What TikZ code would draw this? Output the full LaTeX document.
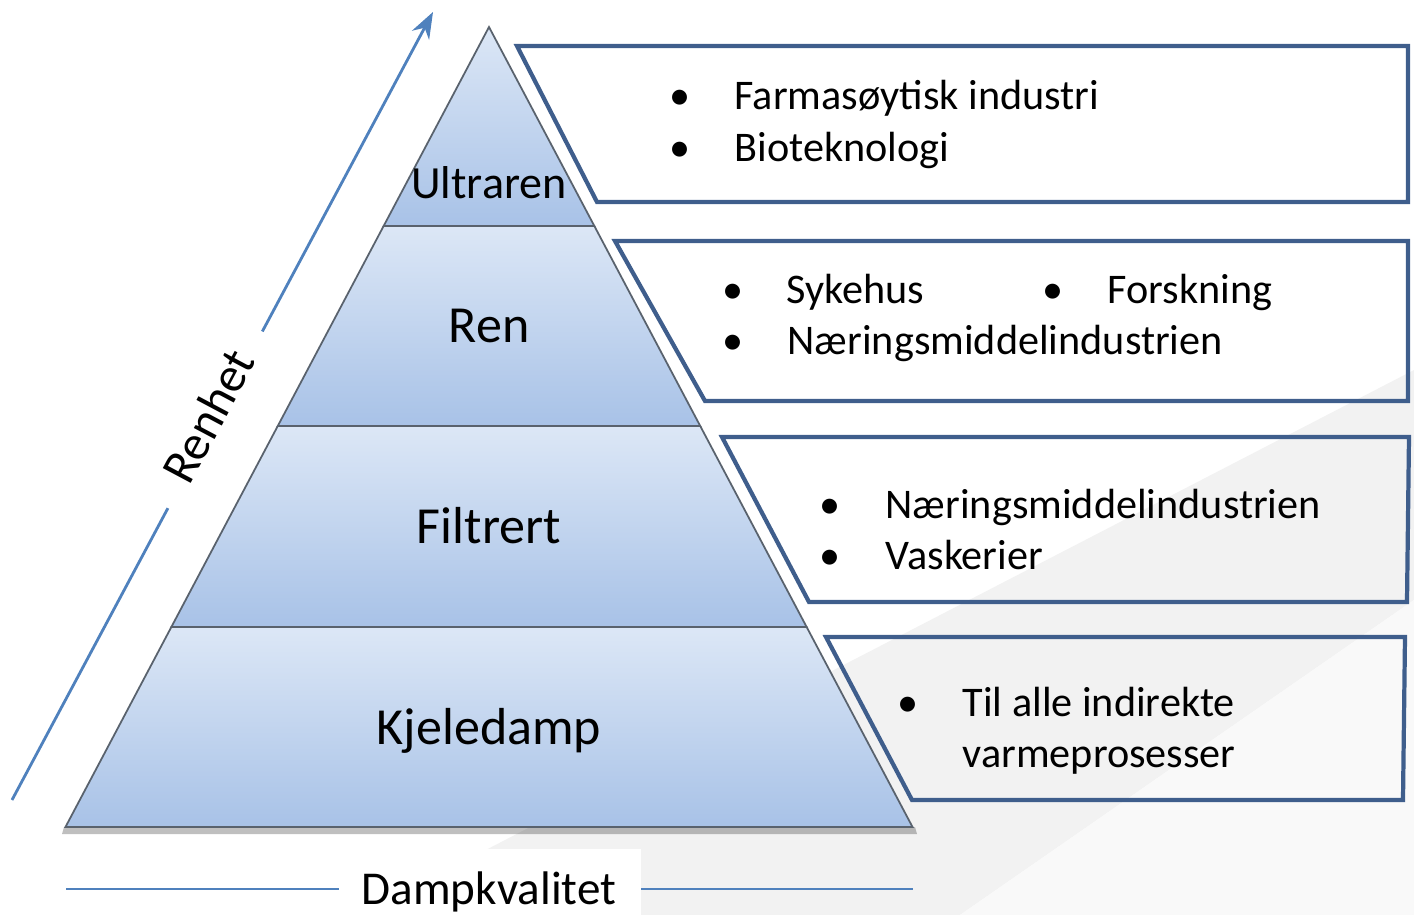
\documentclass[tikz,border=0pt]{standalone}
\usepackage{fontspec}
\setmainfont{Carlito}
\usetikzlibrary{arrows.meta}
\definecolor{boxblue}{HTML}{3F5E8C}
\definecolor{lineblue}{HTML}{4F81BD}
\definecolor{pyrtop}{HTML}{DCE7F6}
\definecolor{pyrbot}{HTML}{A8C2E7}
\definecolor{pyredge}{HTML}{59626D}

\begin{document}
\begin{tikzpicture}[x=0.01cm, y=-0.01cm,
  infobox/.style={draw=boxblue, line width=1.2pt},
  band/.style={top color=pyrtop, bottom color=pyrbot, draw=pyredge, line width=0.5pt},
  level/.style={font=\fontsize{14.8}{17}\selectfont, anchor=base, inner sep=0pt},
  entry/.style={font=\fontsize{12}{14}\selectfont, anchor=base west, inner sep=0pt},
  dot/.style={font=\fontsize{12}{14}\selectfont, anchor=base, inner sep=0pt},
  axisline/.style={lineblue, line width=0.8pt}]
  \useasboundingbox (0,0) rectangle (1414,915);

  % ── background sheen ──
  \fill[gray!10] (1414,370) -- (1414,600) -- (960,915) -- (360,915) -- cycle;
  \fill[gray!5] (1414,600) -- (1414,915) -- (960,915) -- cycle;

  % ── Renhet axis ──
  \coordinate (renhetstart) at (12,800);
  \coordinate (renhetend) at (433,12);
  \draw[axisline, -{Stealth[length=15pt*0.5, width=11pt*0.5]}] (renhetstart) -- (renhetend);
  \node[fill=white, rotate=62, minimum width=2cm, minimum height=0.75cm, inner sep=0pt,
    font=\fontsize{14}{16}\selectfont] (renhet) at (208,416) {Renhet};

  % ── pyramid ──
  \fill[black, opacity=0.25] (64,827) -- (915,827) -- (917,834) -- (62,834) -- cycle;
  \foreach \yt/\yb in {27/226, 226/426, 426/627, 627/827} {
    \pgfmathsetmacro{\wt}{(\yt-27)*0.5294}
    \pgfmathsetmacro{\wb}{(\yb-27)*0.5294}
    \shade[band] ({489-\wt},\yt) -- ({489+\wt},\yt) -- ({489+\wb},\yb) -- ({489-\wb},\yb) -- cycle;
  }
  \node[level, font=\fontsize{13.1}{15}\selectfont] (ultra) at (489,199) {Ultraren};
  \node[level] (ren) at (489,342) {Ren};
  \node[level] (filt) at (489,543) {Filtrert};
  \node[level] (kjele) at (489,744) {Kjeledamp};

  % ── info boxes ──
  \draw[infobox] (517,46) -- (1408,46) -- (1408,202) -- (597,202) -- cycle;
  \draw[infobox] (615,241) -- (1408,241) -- (1408,401) -- (705,401) -- cycle;
  \draw[infobox] (722,437) -- (1409,437) -- (1407,602) -- (809,602) -- cycle;
  \draw[infobox] (826,637) -- (1405,637) -- (1403,800) -- (912,800) -- cycle;

  % ── bullet entries ──
  \foreach \nm/\bx/\tx/\by/\txt in {
    farma/680/734/110/{Farmasøytisk industri},
    bio/680/734/162/{Bioteknologi},
    syke/733/786/304/{Sykehus},
    forsk/1053/1107/304/{Forskning},
    naering/733/787/354/{Næringsmiddelindustrien},
    naeringb/830/885/518/{Næringsmiddelindustrien},
    vask/830/885/569/{Vaskerier},
    til/908/962/716/{Til alle indirekte}} {
    \node[dot] (\nm dot) at (\bx,\by) {•};
    \node[entry] (\nm) at (\tx,\by) {\txt};
  }
  \node[entry] (varme) at (962,767) {varmeprosesser};

  % ── Dampkvalitet axis ──
  \node[fill=white, minimum width=3.01cm, minimum height=0.66cm, inner sep=0pt] (dampbox) at (490,882) {};
  \node[level, font=\fontsize{13.4}{15}\selectfont] (damp) at (489,904) {Dampkvalitet};
  \coordinate (dampleft) at (66,889);
  \coordinate (dampright) at (913,889);
  \draw[axisline] (dampleft) -- (dampleft -| dampbox.west);
  \draw[axisline] (dampbox.east |- dampright) -- (dampright);
\end{tikzpicture}
\end{document}
